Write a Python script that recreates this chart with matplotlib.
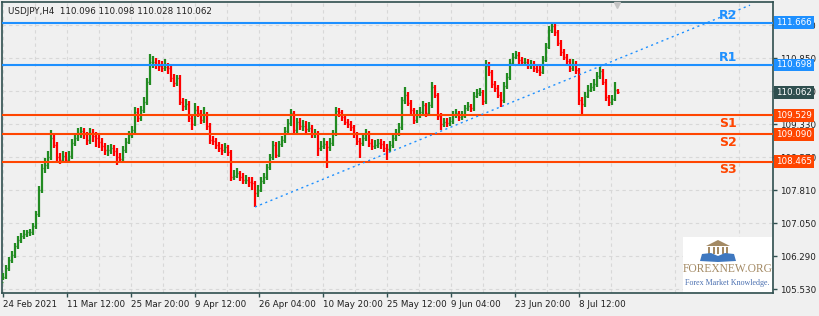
import numpy as np
import matplotlib
matplotlib.use("Agg")
import matplotlib.pyplot as plt
from matplotlib.patches import Rectangle, Polygon
from matplotlib.transforms import blended_transform_factory

symbol = "USDJPY,H4"
last_ohlc = ["110.096", "110.098", "110.028", "110.062"]

# one drawn bar for every 3 H4 bars
step = 3
first_open = 105.70
closes = [105.81, 106.01, 106.20, 106.31, 106.52, 106.66, 106.75, 106.80, 106.84, 106.84,
          106.98, 107.26, 107.81, 108.32, 108.39, 108.57, 109.01, 108.85, 108.57, 108.50,
          108.59, 108.50, 108.59, 108.89, 109.01, 109.12, 109.17, 109.10, 108.96, 109.12,
          109.06, 109.01, 108.92, 108.83, 108.73, 108.73, 108.78, 108.71, 108.57, 108.53,
          108.73, 108.92, 109.08, 109.19, 109.61, 109.47, 109.65, 109.84, 110.30, 110.76,
          110.76, 110.71, 110.67, 110.62, 110.65, 110.62, 110.39, 110.28, 110.39, 109.84,
          109.75, 109.79, 109.47, 109.33, 109.65, 109.59, 109.42, 109.56, 109.29, 108.96,
          108.94, 108.85, 108.78, 108.73, 108.80, 108.69, 108.11, 108.13, 108.20, 108.11,
          108.04, 108.04, 108.00, 107.97, 107.74, 107.81, 108.02, 108.11, 108.34, 108.57,
          108.85, 108.62, 108.87, 108.96, 109.17, 109.35, 109.59, 109.19, 109.38, 109.29,
          109.29, 109.22, 109.24, 109.10, 109.12, 108.78, 108.83, 108.87, 108.80, 108.89,
          109.12, 109.63, 109.61, 109.49, 109.38, 109.33, 109.26, 109.10, 108.94, 108.89,
          109.01, 109.12, 108.89, 108.83, 108.85, 108.89, 108.87, 108.78, 108.76, 108.85,
          109.01, 109.12, 109.26, 109.88, 110.00, 109.82, 109.65, 109.42, 109.54, 109.61,
          109.77, 109.59, 109.77, 110.18, 110.00, 109.52, 109.33, 109.38, 109.35, 109.40,
          109.54, 109.59, 109.49, 109.52, 109.70, 109.75, 109.70, 109.98, 110.05, 110.07,
          109.86, 110.67, 110.53, 110.25, 110.16, 110.00, 109.88, 110.21, 110.41, 110.74,
          110.88, 110.92, 110.81, 110.76, 110.76, 110.69, 110.71, 110.62, 110.58, 110.53,
          110.81, 111.11, 111.50, 111.59, 111.45, 111.20, 110.99, 110.88, 110.78, 110.62,
          110.71, 110.58, 109.88, 109.79, 109.98, 110.12, 110.18, 110.25, 110.44, 110.55,
          110.30, 109.95, 109.84, 109.91, 110.12, 110.06]
highs = [105.90, 106.08, 106.27, 106.40, 106.58, 106.74, 106.82, 106.88, 106.90, 106.92,
         107.04, 107.33, 107.90, 108.42, 108.55, 108.70, 109.19, 109.10, 108.92, 108.66,
         108.72, 108.68, 108.70, 108.98, 109.12, 109.25, 109.26, 109.25, 109.15, 109.24,
         109.21, 109.15, 109.08, 109.00, 108.90, 108.85, 108.88, 108.84, 108.78, 108.66,
         108.82, 109.02, 109.18, 109.28, 109.72, 109.70, 109.75, 109.95, 110.40, 110.94,
         110.90, 110.86, 110.80, 110.78, 110.82, 110.74, 110.70, 110.48, 110.46, 110.45,
         109.92, 109.90, 109.86, 109.55, 109.82, 109.74, 109.66, 109.72, 109.60, 109.35,
         109.05, 109.00, 108.92, 108.86, 108.90, 108.85, 108.74, 108.28, 108.32, 108.26,
         108.20, 108.15, 108.12, 108.10, 108.02, 107.92, 108.10, 108.20, 108.42, 108.65,
         108.94, 108.92, 108.95, 109.05, 109.26, 109.45, 109.68, 109.64, 109.48, 109.46,
         109.42, 109.40, 109.38, 109.30, 109.22, 109.16, 108.95, 109.00, 108.95, 109.00,
         109.20, 109.72, 109.70, 109.66, 109.55, 109.45, 109.40, 109.32, 109.15, 109.02,
         109.10, 109.22, 109.18, 108.98, 108.96, 108.98, 108.98, 108.94, 108.88, 108.95,
         109.10, 109.22, 109.36, 109.96, 110.18, 110.06, 109.88, 109.70, 109.66, 109.72,
         109.86, 109.82, 109.85, 110.30, 110.24, 110.05, 109.58, 109.48, 109.46, 109.50,
         109.62, 109.68, 109.64, 109.62, 109.78, 109.84, 109.80, 110.06, 110.14, 110.16,
         110.12, 110.81, 110.76, 110.58, 110.32, 110.22, 110.06, 110.30, 110.50, 110.82,
         110.96, 111.02, 110.98, 110.88, 110.86, 110.84, 110.80, 110.78, 110.70, 110.66,
         110.90, 111.20, 111.58, 111.66, 111.64, 111.50, 111.26, 111.05, 110.94, 110.84,
         110.84, 110.78, 110.62, 109.96, 110.06, 110.22, 110.28, 110.36, 110.52, 110.64,
         110.60, 110.36, 110.00, 110.00, 110.30, 110.14]
lows = [105.74, 105.76, 105.95, 106.12, 106.25, 106.45, 106.58, 106.68, 106.72, 106.76,
        106.78, 106.92, 107.20, 107.74, 108.20, 108.30, 108.50, 108.78, 108.45, 108.42,
        108.44, 108.43, 108.45, 108.52, 108.82, 108.95, 109.02, 108.98, 108.85, 108.88,
        108.92, 108.80, 108.78, 108.70, 108.62, 108.60, 108.64, 108.60, 108.39, 108.45,
        108.48, 108.66, 108.86, 109.02, 109.12, 109.38, 109.40, 109.58, 109.78, 110.22,
        110.62, 110.60, 110.55, 110.52, 110.55, 110.48, 110.30, 110.18, 110.20, 109.76,
        109.62, 109.66, 109.38, 109.20, 109.28, 109.50, 109.34, 109.36, 109.20, 108.88,
        108.85, 108.76, 108.68, 108.62, 108.66, 108.60, 108.02, 108.04, 108.08, 108.02,
        107.95, 107.94, 107.88, 107.80, 107.42, 107.66, 107.76, 107.96, 108.05, 108.28,
        108.50, 108.55, 108.56, 108.80, 108.90, 109.10, 109.28, 109.10, 109.12, 109.20,
        109.16, 109.12, 109.14, 109.02, 109.02, 108.60, 108.70, 108.75, 108.32, 108.72,
        108.82, 109.05, 109.50, 109.40, 109.30, 109.24, 109.18, 109.00, 108.85, 108.55,
        108.82, 108.95, 108.80, 108.74, 108.76, 108.78, 108.76, 108.68, 108.50, 108.68,
        108.78, 108.95, 109.06, 109.20, 109.80, 109.74, 109.56, 109.34, 109.36, 109.48,
        109.55, 109.50, 109.52, 109.70, 109.92, 109.42, 109.19, 109.26, 109.26, 109.28,
        109.34, 109.46, 109.40, 109.42, 109.46, 109.64, 109.60, 109.64, 109.92, 109.98,
        109.78, 109.80, 110.44, 110.15, 110.06, 109.92, 109.72, 109.82, 110.14, 110.35,
        110.68, 110.82, 110.72, 110.66, 110.66, 110.60, 110.60, 110.54, 110.50, 110.44,
        110.48, 110.75, 111.05, 111.42, 111.36, 111.12, 110.90, 110.80, 110.68, 110.52,
        110.56, 110.48, 109.78, 109.54, 109.72, 109.92, 110.06, 110.10, 110.18, 110.38,
        110.22, 109.86, 109.74, 109.78, 109.86, 110.02]

level_names = ["R2", "R1", "S1", "S2", "S3"]
level_prices = [111.666, 110.698, 109.529, 109.090, 108.465]
level_colors = ["#1e90ff", "#1e90ff", "#ff4500", "#ff4500", "#ff4500"]

# trend line anchors (H4 bar index, price)
trend_x = [252, 747]
trend_y = [107.42, 112.07]

date_ticks = [0, 64, 128, 192, 256, 320, 384, 448, 512, 576]
date_labels = ["24 Feb 2021", "11 Mar 12:00", "25 Mar 20:00", "9 Apr 12:00", "26 Apr 04:00",
               "10 May 20:00", "25 May 12:00", "9 Jun 04:00", "23 Jun 20:00", "8 Jul 12:00"]
price_ticks = [105.530, 106.290, 107.050, 107.810, 108.570, 109.330, 110.090, 110.850, 111.610]

W, H = 820, 316
BG = "#f0f0f0"
FRAME = "#2f4f4f"
TXT = "#202020"
UP = "#228b22"
DOWN = "#ff0000"


def fx(px):
    return px / W


def fy(py):
    return 1 - py / H


def draw_bars(ax):
    x = np.arange(len(closes)) * step
    c = np.array(closes)
    o = np.concatenate([[first_open], c[:-1]])
    cols = [UP if cc >= oo else DOWN for oo, cc in zip(o, c)]
    ax.vlines(x, lows, highs, colors=cols, lw=1.6, zorder=3)
    ax.hlines(o, x - 1.4, x, colors=cols, lw=1.0, zorder=3)
    ax.hlines(c, x, x + 1.4, colors=cols, lw=1.0, zorder=3)


def draw_levels(ax):
    for name, p, col in zip(level_names, level_prices, level_colors):
        ax.axhline(p, color=col, lw=1.5, zorder=4)
        dy = 5.4 if name.startswith("R") else -6.0
        ax.annotate(name, (725, p), xytext=(0, dy), textcoords="offset points",
                    ha="center", va="center", fontsize=9, fontweight="bold", color=col, zorder=4)
    ax.plot(trend_x, trend_y, color="#1e90ff", lw=1.0, ls=(0, (1.5, 2.5)), zorder=4)


def price_boxes(fig, ax, ymin, ymax):
    tr = blended_transform_factory(fig.transFigure, ax.transData)
    ppx = (ymax - ymin) / 291.0
    boxes = [(p, col) for p, col in zip(level_prices, level_colors)]
    boxes.append((float(last_ohlc[3]), FRAME))
    for p, col in boxes:
        ax.add_patch(Rectangle((fx(774), p - 6.2 * ppx), fx(40), 12.4 * ppx, transform=tr,
                               facecolor=col, edgecolor="none", clip_on=False, zorder=6))
        ax.text(fx(794), p, "%.3f" % p, transform=tr, ha="center", va="center",
                fontsize=6.3, color="white", zorder=7, clip_on=False)


def logo(fig):
    fig.patches.append(Rectangle((fx(683), fy(292)), fx(89), fy(237) - fy(292),
                                 transform=fig.transFigure, facecolor="white",
                                 edgecolor="none", zorder=5))
    tan = "#a48a64"
    blue = "#3f78c0"
    roof = Polygon([(fx(706), fy(246)), (fx(730), fy(246)), (fx(718), fy(240))],
                   closed=True, transform=fig.transFigure, facecolor=tan, edgecolor="none", zorder=6)
    fig.patches.append(roof)
    for px in [709.5, 714, 718.5, 723, 727.5]:
        fig.patches.append(Rectangle((fx(px - 1), fy(254)), fx(2), fy(247) - fy(254),
                                     transform=fig.transFigure, facecolor=tan,
                                     edgecolor="none", zorder=6))
    left = Polygon([(fx(700), fy(261)), (fx(702), fy(254)), (fx(711), fy(253)), (fx(718), fy(256)),
                    (fx(718), fy(262))], closed=True, transform=fig.transFigure,
                   facecolor=blue, edgecolor="none", zorder=6)
    right = Polygon([(fx(736), fy(261)), (fx(734), fy(254)), (fx(725), fy(253)), (fx(718), fy(256)),
                     (fx(718), fy(262))], closed=True, transform=fig.transFigure,
                    facecolor=blue, edgecolor="none", zorder=6)
    fig.patches.extend([left, right])
    fig.text(fx(727.5), fy(269), "FOREXNEW.ORG", ha="center", va="center", fontsize=8.3,
             family="Liberation Serif", color=tan, zorder=7)
    fig.text(fx(727.5), fy(283), "Forex Market Knowledge.", ha="center", va="center", fontsize=5.8,
             family="Liberation Serif", color="#4a6fb0", zorder=7)


def main():
    plt.rcParams["font.family"] = "DejaVu Sans"
    fig = plt.figure(figsize=(W / 100, H / 100), dpi=100, facecolor=BG)
    ax = fig.add_axes([fx(2), 1 - 293 / H, fx(771), 291 / H])
    ax.set_facecolor(BG)

    ppu = 43.4
    ymin = 105.53 - 4 / ppu
    ymax = 105.53 + 287 / ppu
    ax.set_ylim(ymin, ymax)
    ax.set_xlim(-1, 770)

    draw_bars(ax)
    draw_levels(ax)

    ax.yaxis.tick_right()
    ax.set_yticks(price_ticks)
    ax.set_yticklabels(["%.3f" % p for p in price_ticks])
    ax.set_xticks(date_ticks)
    ax.set_xticklabels(date_labels)
    for lab in ax.get_xticklabels():
        lab.set_ha("left")
    ax.set_xticks(np.arange(32, 770, 64), minor=True)
    ax.tick_params(axis="both", which="major", direction="out", length=3, width=1,
                   color=FRAME, labelsize=6.3, labelcolor=TXT, pad=2)
    ax.tick_params(axis="x", which="minor", length=0)
    ax.grid(True, which="both", axis="x", color="#d8d8d8", lw=0.8, ls=(0, (3, 3)))
    ax.grid(True, which="major", axis="y", color="#d8d8d8", lw=0.8, ls=(0, (3, 3)))
    ax.set_axisbelow(True)
    for sp in ax.spines.values():
        sp.set_color(FRAME)
        sp.set_linewidth(1.2)

    # shift marker at the top
    ax.plot([614], [ymax - 3 / ppu], marker="v", ms=5, color="#c4c4c4", clip_on=False, zorder=5)

    price_boxes(fig, ax, ymin, ymax)
    logo(fig)

    fig.text(fx(8), fy(11), symbol + "  " + " ".join(last_ohlc), ha="left", va="center",
             fontsize=6.3, color=TXT)

    fig.savefig("out.png", dpi=100, facecolor=BG)


if __name__ == "__main__":
    main()
